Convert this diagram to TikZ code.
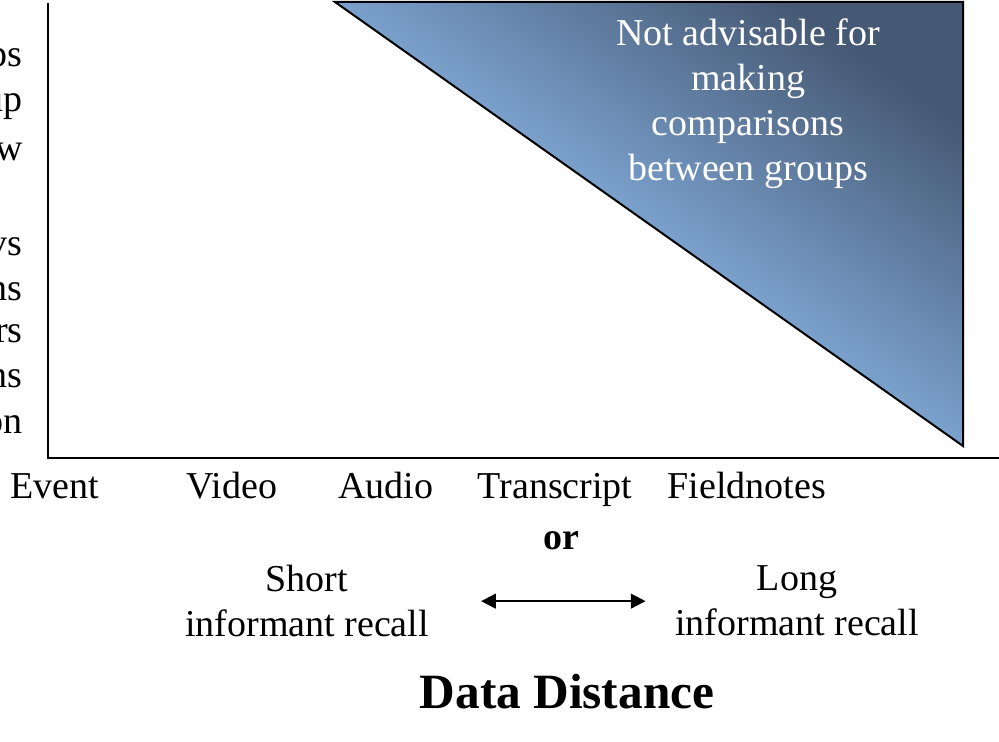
\documentclass[tikz,border=0pt]{standalone}
\usepackage{fontspec}
\setmainfont{Liberation Serif}
\usetikzlibrary{arrows.meta}
\definecolor{trilight}{RGB}{122,160,204}
\definecolor{tridark}{RGB}{70,89,116}
\tikzset{
  lbl/.style={font=\fontsize{28.5}{33.75}\selectfont, inner sep=0pt, text=black},
  axisline/.style={line width=1.6pt, black},
}
\begin{document}
\begin{tikzpicture}[x=0.75pt,y=-0.75pt]
\useasboundingbox (0,0) rectangle (999,742);
% axes
\coordinate (ytop) at (48,3);
\coordinate (orig) at (48,458);
\coordinate (xend) at (999,458);
\draw[axisline] (ytop) -- (orig) -- (xend);
% triangle
\coordinate (tA) at (335,2);
\coordinate (tB) at (963,2);
\coordinate (tC) at (963,446);
\shade[bottom color=trilight, top color=tridark, middle color=trilight, shading angle=-35]
  (tA) -- (tB) -- (tC) -- cycle;
\draw[line width=1.5pt, line join=miter] (tA) -- (tB) -- (tC) -- cycle;
\node[lbl, text=white, align=center, anchor=north] (warn) at (748,18)
  {Not advisable for\\making\\comparisons\\between groups};
% left fragments (cropped labels)
\node[lbl, anchor=base east] (l1) at (23,67) {ps};
\node[lbl, anchor=base east] (l2) at (23,112) {up};
\node[lbl, anchor=base east] (l3) at (23,160) {w};
\node[lbl, anchor=base east] (l4) at (23,255) {vs};
\node[lbl, anchor=base east] (l5) at (23,300) {ns};
\node[lbl, anchor=base east] (l6) at (23,342) {rs};
\node[lbl, anchor=base east] (l7) at (23,387) {ns};
\node[lbl, anchor=base east] (l8) at (23,433) {on};
% x labels
\node[lbl, anchor=base] (event) at (55,498) {Event};
\node[lbl, anchor=base] (video) at (232,498) {Video};
\node[lbl, anchor=base] (audio) at (386,498) {Audio};
\node[lbl, anchor=base] (trans) at (555,498) {Transcript};
\node[lbl, anchor=base] (field) at (747,498) {Fieldnotes};
\node[lbl, anchor=base, font=\bfseries\fontsize{28.5}{33.75}\selectfont] (or) at (561,549) {or};
\node[lbl, align=center, anchor=north] (short) at (307,565) {Short\\informant recall};
\node[lbl, align=center, anchor=north] (long) at (797,565) {Long\\informant recall};
\draw[line width=1.5pt, {Triangle[length=11pt,width=11pt]}-{Triangle[length=11pt,width=11pt]},
  shorten <=39pt, shorten >=22pt] (short.east) -- (short.east -| long.west);
\node[lbl, anchor=base, font=\bfseries\fontsize{37}{44}\selectfont] (dd) at (567,708) {Data Distance};
\end{tikzpicture}
\end{document}
